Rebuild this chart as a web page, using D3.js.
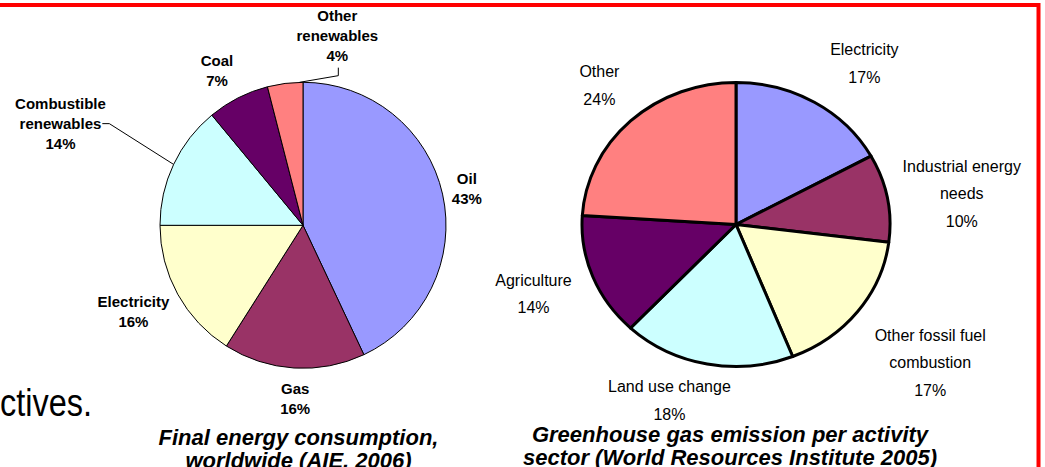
<!DOCTYPE html>
<html>
<head>
<meta charset="utf-8">
<script src="https://cdn.jsdelivr.net/npm/d3@7"></script>
<style>
  body { margin: 0; background: #fff; }
  svg { display: block; font-family: "Liberation Sans", Arial, sans-serif; }
</style>
</head>
<body>
<svg id="chart" width="1045" height="467"></svg>
<script>
// consommation finale d'energie (AIE 2006)
const energyCategories = ['Oil', 'Gas', 'Electricity', 'Combustible renewables', 'Coal', 'Other renewables'];
const energyValues = [43, 16, 16, 14, 7, 4];
const energyLabelLines = [['Oil'], ['Gas'], ['Electricity'], ['Combustible', 'renewables'], ['Coal'], ['Other', 'renewables']];
const energyTitle = ['Final energy consumption,', 'worldwide (AIE, 2006)'];

// emissions de GES par secteur (WRI 2005)
const ghgCategories = ['Electricity', 'Industrial energy needs', 'Other fossil fuel combustion', 'Land use change', 'Agriculture', 'Other'];
const ghgValues = [17, 10, 17, 18, 14, 24];
const ghgLabelLines = [['Electricity'], ['Industrial energy', 'needs'], ['Other fossil fuel', 'combustion'], ['Land use change'], ['Agriculture'], ['Other']];
const ghgTitle = ['Greenhouse gas emission per activity', 'sector (World Resources Institute 2005)'];

const sliceColors = ['#9999FF', '#993366', '#FFFFCC', '#CCFFFF', '#660066', '#FF8080'];

const svg = d3.select('#chart');

// cadre rouge de la diapo
svg.append('rect')
    .attr('x', -10).attr('y', 5)
    .attr('width', 1048.5).attr('height', 520)
    .attr('fill', 'none')
    .attr('stroke', '#FF0000')
    .attr('stroke-width', 4);

// bout de texte de la diapo, coupe a gauche
svg.append('text')
    .attr('x', 0).attr('y', 416)
    .attr('font-size', 38)
    .attr('textLength', 92)
    .attr('lengthAdjust', 'spacingAndGlyphs')
    .attr('fill', '#000')
    .text('ctives.');

function drawPie(opts) {
    const g = svg.append('g').attr('transform', `translate(${opts.cx},${opts.cy})`);
    const arcs = d3.pie().sort(null).value(d => d)(opts.values);
    const arc = d3.arc().innerRadius(0).outerRadius(opts.r);

    g.append('g')
        .attr('transform', `scale(${opts.sx},1)`)
        .selectAll('path')
        .data(arcs)
        .enter().append('path')
        .attr('d', arc)
        .attr('fill', (d, i) => sliceColors[i])
        .attr('stroke', '#000')
        .attr('stroke-width', opts.stroke)
        .attr('stroke-linejoin', 'round')
        .attr('vector-effect', 'non-scaling-stroke');

    const labelArc = d3.arc().innerRadius(opts.labelR).outerRadius(opts.labelR);

    arcs.forEach((d, i) => {
        const c = labelArc.centroid(d);
        const bx = c[0] * opts.sx + opts.nudge[i][0];
        const by = c[1] + opts.nudge[i][1];
        const lines = opts.lines[i].concat(opts.values[i] + '%');
        const y0 = by - (lines.length - 1) * opts.lineH / 2;

        const text = g.append('text')
            .attr('text-anchor', 'middle')
            .attr('font-size', opts.fontSize)
            .attr('font-weight', opts.bold ? 'bold' : 'normal')
            .attr('fill', '#000');
        const spans = lines.map((s, k) => text.append('tspan')
            .attr('x', bx)
            .attr('y', y0 + k * opts.lineH)
            .attr('dy', '0.35em')
            .text(s));

        // lignes de rappel
        const leader = opts.leaders[i];
        if (leader) {
            let pts;
            if (leader === 'side') {
                const e = d3.arc().innerRadius(opts.r).outerRadius(opts.r).centroid(d);
                const w = spans[1].node().getComputedTextLength();
                const ly = y0 + opts.lineH;
                pts = [[bx + w / 2 + 1, ly], [bx + w / 2 + 8, ly], [e[0], e[1]]];
            } else {
                // vers le bord droit de la part
                const a = d.endAngle - 0.1 * (d.endAngle - d.startAngle);
                const ly = y0 + (lines.length - 1) * opts.lineH;
                pts = [[bx + 1, ly + 12], [bx + 1, ly + 20], [Math.sin(a) * opts.r, -Math.cos(a) * opts.r]];
            }
            g.append('path')
                .attr('d', d3.line()(pts))
                .attr('fill', 'none')
                .attr('stroke', '#000')
                .attr('stroke-width', 1);
        }
    });

    // titre en gras italique
    const title = svg.append('text')
        .attr('text-anchor', 'middle')
        .attr('font-size', 22)
        .attr('font-weight', 'bold')
        .attr('font-style', 'italic')
        .attr('fill', '#000');
    opts.title.forEach((s, k) => title.append('tspan')
        .attr('x', opts.titleX)
        .attr('y', opts.titleY + k * 23)
        .text(s));
}

drawPie({
    cx: 303, cy: 225.3, r: 143, sx: 1, stroke: 1,
    values: energyValues, lines: energyLabelLines,
    labelR: 173, fontSize: 15, bold: true, lineH: 20,
    nudge: [[-5, 1], [3, 1], [-18, 3], [-86, -28], [-7.5, 0], [56, -18]],
    leaders: [null, null, null, 'side', null, 'top'],
    title: energyTitle, titleX: 298.5, titleY: 444.7
});

drawPie({
    cx: 736, cy: 224.5, r: 142, sx: 154 / 142, stroke: 3,
    values: ghgValues, lines: ghgLabelLines,
    labelR: 180, fontSize: 16, bold: false, lineH: 27.5,
    nudge: [[29, -6], [34, 3], [40, 28], [-30, -1], [-21, 3], [-3, -8]],
    leaders: [null, null, null, null, null, null],
    title: ghgTitle, titleX: 730, titleY: 441.7
});
</script>
</body>
</html>
